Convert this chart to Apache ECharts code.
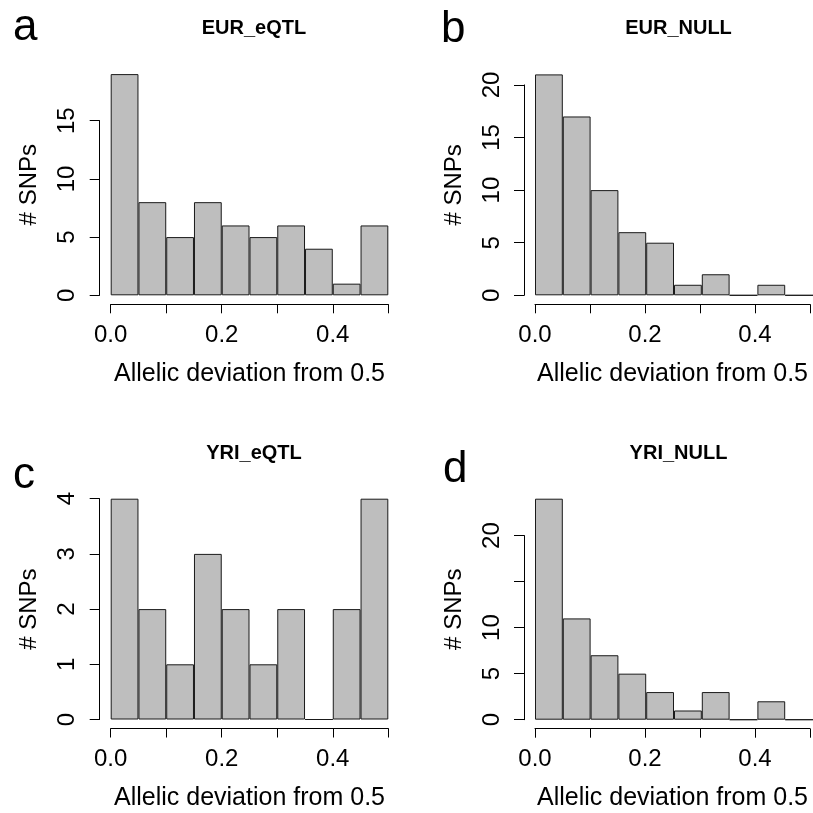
<!DOCTYPE html>
<html>
<head>
<meta charset="utf-8">
<script src="https://cdn.jsdelivr.net/npm/echarts@6/dist/echarts.min.js"></script>
<style>
  html, body { margin: 0; padding: 0; background: #fff; }
  #chart { width: 813px; height: 813px; }
</style>
</head>
<body>
<div id="chart"></div>
<script>
// 数据 ----------------------------------------
var binLabels = ['0.00-0.05', '0.05-0.10', '0.10-0.15', '0.15-0.20', '0.20-0.25',
                 '0.25-0.30', '0.30-0.35', '0.35-0.40', '0.40-0.45', '0.45-0.50'];
var eurEqtl = [19, 8, 5, 8, 6, 5, 6, 4, 1, 6];
var eurNull = [21, 17, 10, 6, 5, 1, 2, 0, 1, 0];
var yriEqtl = [4, 2, 1, 3, 2, 1, 2, 0, 2, 4];
var yriNull = [24, 11, 7, 5, 3, 1, 3, 0, 2, 0];

var panelTitles = ['EUR_eQTL', 'EUR_NULL', 'YRI_eQTL', 'YRI_NULL'];
var panelLetters = ['a', 'b', 'c', 'd'];
var xLabelTicks = [0, 0.2, 0.4];          // x 轴上只标这几个
var yTickMax = [15, 20, 4, 20];           // y 轴最后一个刻度
var yTickStep = [5, 5, 1, 5];
var yHiddenLabels = [[], [], [], [15]];   // R 因为重叠省掉的标签
var panelData = [eurEqtl, eurNull, yriEqtl, yriNull];

// 布局 (像素) ------------------------------------
var ff = 'Liberation Sans, Arial, Helvetica, sans-serif';
var layout = [
    {x0: 110.7, x1: 388.3, top: 74.1, y0: 295.3},
    {x0: 535,   x1: 813,   top: 74.4, y0: 295.3},
    {x0: 110.7, x1: 388.3, top: 498.7, y0: 719.5},
    {x0: 535,   x1: 813,   top: 498.7, y0: 719.7}
];
var letterPos = [[8, 1], [436, 3], [8, 449], [438, 443]];
var titleTop = [13, 13, 438, 438];

var grids = [], xAxes = [], yAxes = [], series = [], titles = [];

for (var p = 0; p < 4; p++) {
    var L = layout[p];
    var data = panelData[p];
    var ymax = Math.max.apply(null, data);
    var ppu = (L.y0 - L.top) / ymax;
    var axisTop = L.y0 - yTickMax[p] * ppu;
    var w = L.x1 - L.x0;

    // 数据网格 (柱子)
    grids.push({left: L.x0, top: L.top, width: w, height: L.y0 - L.top});
    // 坐标轴网格 (只画轴)
    grids.push({left: L.x0, top: axisTop, width: w, height: L.y0 - axisTop});

    xAxes.push({
        gridIndex: p * 2, type: 'category', data: binLabels,
        show: false, boundaryGap: true
    });
    yAxes.push({
        gridIndex: p * 2, type: 'value', min: 0, max: ymax, offset: 11,
        axisLine: {show: false, onZero: false}, axisTick: {show: false}, axisLabel: {show: false},
        splitLine: {show: false},
        name: '# SNPs', nameLocation: 'middle', nameRotate: 90, nameGap: 58,
        nameTextStyle: {fontFamily: ff, fontSize: 24, color: '#000'}
    });

    xAxes.push({
        gridIndex: p * 2 + 1, type: 'value', min: 0, max: 0.5, interval: 0.1, offset: 9,
        axisLine: {show: true, onZero: false, lineStyle: {color: '#000', width: 1}},
        axisTick: {show: true, length: 9, lineStyle: {color: '#000', width: 1}},
        axisLabel: {
            fontFamily: ff, fontSize: 24, color: '#000', margin: 19,
            showMinLabel: true, showMaxLabel: true, hideOverlap: false,
            formatter: function (v) {
                for (var k = 0; k < xLabelTicks.length; k++) {
                    if (Math.abs(v - xLabelTicks[k]) < 1e-9) return v.toFixed(1);
                }
                return '';
            }
        },
        splitLine: {show: false},
        name: 'Allelic deviation from 0.5', nameLocation: 'middle', nameGap: 57,
        nameTextStyle: {fontFamily: ff, fontSize: 25, color: '#000'}
    });
    yAxes.push({
        gridIndex: p * 2 + 1, type: 'value', min: 0, max: yTickMax[p], interval: yTickStep[p],
        offset: 11,
        axisLine: {show: true, onZero: false, lineStyle: {color: '#000', width: 1}},
        axisTick: {show: true, length: 10, lineStyle: {color: '#000', width: 1}},
        axisLabel: {
            fontFamily: ff, fontSize: 24, color: '#000', rotate: 90, margin: 20,
            showMinLabel: true, showMaxLabel: true, hideOverlap: false,
            formatter: (function (hidden) {
                return function (v) {
                    return hidden.indexOf(v) >= 0 ? '' : String(v);
                };
            })(yHiddenLabels[p])
        },
        splitLine: {show: false}
    });

    series.push({
        type: 'bar', xAxisIndex: p * 2, yAxisIndex: p * 2,
        data: data, barWidth: '100%', barCategoryGap: 0, silent: true,
        itemStyle: {color: '#bebebe', borderColor: '#1a1a1a', borderWidth: 1}
    });

    titles.push({
        text: panelTitles[p], left: (L.x0 + L.x1) / 2 - 0.5, top: titleTop[p], textAlign: 'center',
        textStyle: {fontFamily: ff, fontSize: 20, fontWeight: 'bold', color: '#000'}
    });
    titles.push({
        text: panelLetters[p], left: letterPos[p][0], top: letterPos[p][1],
        textStyle: {fontFamily: ff, fontSize: 44, fontWeight: 'normal', color: '#000'}
    });
}

var myChart = echarts.init(document.getElementById('chart'), null, {renderer: 'canvas'});
myChart.setOption({
    animation: false,
    backgroundColor: '#fff',
    title: titles,
    grid: grids,
    xAxis: xAxes,
    yAxis: yAxes,
    series: series
});
</script>
</body>
</html>
